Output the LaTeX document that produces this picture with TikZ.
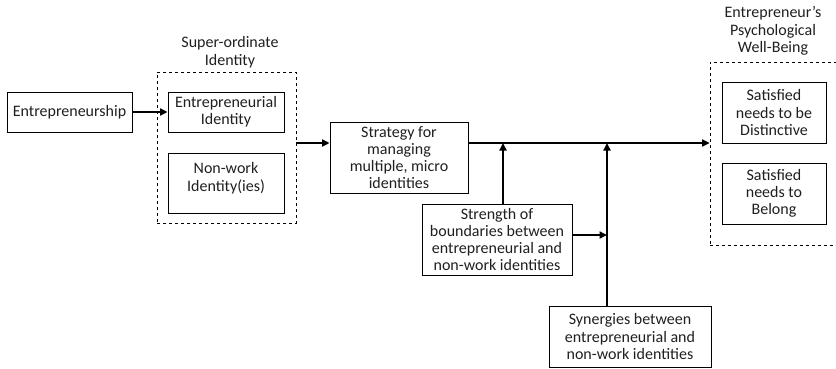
\documentclass[tikz,border=0pt]{standalone}
\usepackage{fontspec}
\setmainfont{Carlito}
\usetikzlibrary{arrows.meta}
\definecolor{ink}{gray}{0.12}
\tikzset{
  box/.style={draw, line width=0.8pt, align=center, inner sep=1pt, text=ink,
              font=\fontsize{16}{17.2}\selectfont},
  group/.style={draw, dashed, line width=0.7pt},
  caption/.style={align=center, text=ink, font=\fontsize{16}{17.5}\selectfont},
  arr/.style={line width=1.8pt, -{Triangle[length=7.5pt,width=7pt]}}
}
\begin{document}
\begin{tikzpicture}[x=1pt,y=-1pt]
\useasboundingbox (0,0) rectangle (836,368);

% left side: source and super-ordinate identity group
\node[box, minimum width=125pt, minimum height=40pt] (ent) at (69.5,112) {Entrepreneurship};
\node[group, minimum width=139pt, minimum height=151pt] (sup) at (226.5,147.5) {};
\node[caption] (suplbl) at (230,52) {Super-ordinate\\Identity};
\node[box, minimum width=116pt, minimum height=40pt] (eid) at (226,112) {Entrepreneurial\\Identity};
\node[box, minimum width=116pt, minimum height=60pt, text depth=12pt] (nwid) at (226,183) {Non-work\\Identity(ies)};

% middle: strategy and moderators
\node[box, minimum width=138pt, minimum height=71pt] (strat) at (399,157.5) {Strategy for\\managing\\multiple, micro\\identities};
\node[box, minimum width=150pt, minimum height=71pt] (str) at (497,239.5) {Strength of\\boundaries between\\entrepreneurial and\\non-work identities};
\node[box, minimum width=162pt, minimum height=61pt] (syn) at (630,336.5) {Synergies between\\entrepreneurial and\\non-work identities};

% right side: well-being group
\node[group, minimum width=128pt, minimum height=183pt] (wb) at (774,153.5) {};
\node[caption] (wblbl) at (773,31) {Entrepreneur's\\Psychological\\Well-Being};
\node[box, minimum width=104pt, minimum height=61pt] (sd) at (774,112.5) {Satisfied\\needs to be\\Distinctive};
\node[box, minimum width=104pt, minimum height=61pt] (sb) at (774,193.5) {Satisfied\\needs to\\Belong};

% junction points on the main path
\coordinate (m1) at (503,143);
\coordinate (m2) at (607,143);

% connectors
\draw[arr] (ent.east) -- (eid.west);
\draw[arr] (sup.east |- m1) -- (strat.west |- m1);
\draw[arr] (strat.east |- m1) -- (wb.west |- m1);
\draw[arr] (str.north -| m1) -- (m1);
\draw[arr] (syn.north -| m2) -- (m2);
\draw[arr] (str.east |- 0,235) -- (m2 |- 0,235);
\end{tikzpicture}
\end{document}
